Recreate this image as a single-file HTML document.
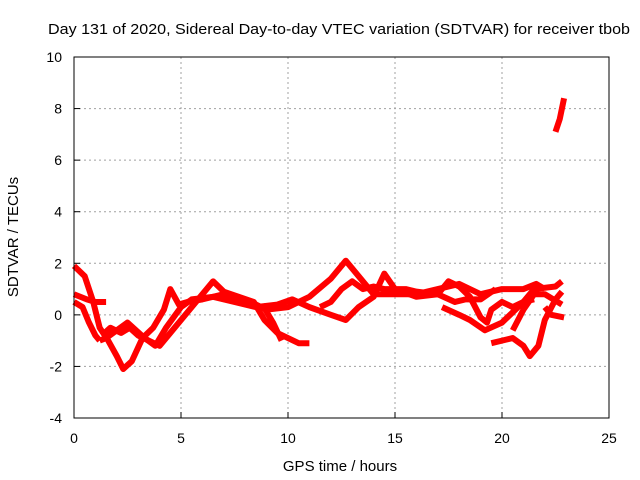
<!DOCTYPE html>
<html><head><meta charset="utf-8"><style>
body{margin:0;background:#fff;}
svg{display:block;font-family:"Liberation Sans",sans-serif;}
</style></head><body>
<svg id="chart" width="640" height="480" xmlns="http://www.w3.org/2000/svg">
<rect width="640" height="480" fill="#fff"/>
<g id="grid"></g>
<g id="series"></g>
<rect x="74" y="57" width="535" height="361" fill="none" stroke="#000" stroke-width="1"/>
<g id="ticks"></g>
<text x="48" y="34" font-size="15" textLength="582" lengthAdjust="spacingAndGlyphs">Day 131 of 2020, Sidereal Day-to-day VTEC variation (SDTVAR) for receiver tbob</text>
<text x="340" y="471" text-anchor="middle" font-size="15">GPS time / hours</text>
<text transform="translate(18,237) rotate(-90)" text-anchor="middle" font-size="15">SDTVAR / TECUs</text>
</svg>
<script>
const xTicks=[0,5,10,15,20,25];
const yTicks=[-4,-2,0,2,4,6,8,10];
const sA=[[0,1.9],[0.5,1.5],[0.9,0.5],[1.2,-0.5],[1.6,-1.0],[2.0,-1.6],[2.3,-2.1],[2.7,-1.8],[3.2,-0.9],[3.7,-0.5],[4.2,0.2],[4.5,1.0],[4.9,0.4],[5.3,0.5],[6,0.6],[7,0.8],[8,0.6],[9,0.2],[10,0.3],[11,0.7],[12,1.4],[12.7,2.1],[13.3,1.5],[14,0.8],[15,0.8],[16,0.8],[17,1.0],[18,1.2],[19,0.8],[20,1.0],[21,1.0],[21.6,1.2],[22,1.0]];
const sB=[[0,0.8],[0.6,0.6],[1.0,0.5],[1.5,0.5]];
const sC=[[0,0.5],[0.4,0.3],[0.7,-0.3],[1.0,-0.8],[1.2,-1.0]];
const sD=[[1.3,-0.8],[1.7,-0.5],[2.2,-0.7],[2.6,-0.5],[3.0,-0.8],[3.5,-1.0],[4.0,-1.2],[4.5,-0.7],[5.2,0.0],[5.7,0.5],[6.5,1.3],[7,0.9],[7.7,0.7],[8.4,0.5],[8.9,-0.2],[9.5,-0.7],[10,-0.9],[10.5,-1.1],[11,-1.1]];
const sE=[[1.2,-1.0],[1.5,-0.9],[2.5,-0.3],[3.3,-0.9],[3.8,-1.2],[4.3,-0.5],[5,0.3],[5.5,0.6],[6.5,0.7],[7.5,0.5],[8.5,0.3],[9.5,0.4],[10.2,0.6],[11,0.3],[12,0.0],[12.7,-0.2],[13.3,0.3],[14,0.7],[14.5,1.6],[15,1.0],[15.5,1.0],[16,0.9],[17,0.8],[17.8,0.5],[18.3,0.6],[19,0.6],[19.7,1.0]];
const sF=[[8.8,0.4],[9.3,-0.3],[9.7,-1.0]];
const sG=[[11.5,0.3],[12,0.5],[12.5,1.0],[13,1.3],[13.5,1.0],[14,1.1],[14.5,1.0],[15,1.0],[16,0.7],[17,0.8],[17.5,1.3],[18,1.1],[18.5,0.7],[19,-0.1],[19.3,-0.3],[19.5,0.2],[20,0.5],[20.5,0.3],[21,0.5],[21.5,1.0],[22.5,1.1],[22.8,1.3]];
const sH=[[17.2,0.3],[18,0.0],[18.5,-0.2],[19.2,-0.6],[20,-0.3],[20.5,0.1],[21,0.5],[21.5,0.6]];
const sI=[[19.5,-1.1],[20,-1.0],[20.5,-0.9],[21,-1.2],[21.3,-1.6],[21.7,-1.2],[22,-0.2],[22.5,0.6],[22.8,0.9]];
const sJ=[[20.5,-0.6],[21,0.2],[21.5,0.8],[22,0.8],[22.8,0.4]];
const sK=[[22,0.3],[22.3,0.0],[22.9,-0.1]];
const sL=[[22.5,7.1],[22.7,7.6],[22.9,8.4]];
const allSeries=[sA,sB,sC,sD,sE,sF,sG,sH,sI,sJ,sK,sL];
const NS="http://www.w3.org/2000/svg";
const X=h=>74+h*(535/25);
const Y=v=>57+(10-v)*(361/14);
const grid=document.getElementById('grid'),ticks=document.getElementById('ticks'),ser=document.getElementById('series');
function mk(t,a){const e=document.createElementNS(NS,t);for(const k in a)e.setAttribute(k,a[k]);return e;}
xTicks.forEach(t=>{
 if(t>0&&t<25){const g=mk('line',{x1:X(t),x2:X(t),y1:57,y2:418,stroke:'#a0a0a0','stroke-dasharray':'2,3'});
 
 grid.appendChild(g);}
 const tk=mk('line',{x1:X(t),x2:X(t),y1:418,y2:412,stroke:'#000'});
 
 ticks.appendChild(tk);
 const tx=mk('text',{x:X(t),y:443,'text-anchor':'middle','font-size':14});tx.textContent=t;
 
 ticks.appendChild(tx);
});
yTicks.forEach(t=>{
 if(t>-4&&t<10){const g=mk('line',{x1:74,x2:609,y1:Y(t),y2:Y(t),stroke:'#a0a0a0','stroke-dasharray':'2,3'});
 
 grid.appendChild(g);}
 const tk=mk('line',{x1:74,x2:80,y1:Y(t),y2:Y(t),stroke:'#000'});
 
 ticks.appendChild(tk);
 const tx=mk('text',{x:62,y:Y(t)+5,'text-anchor':'end','font-size':14});tx.textContent=t;
 
 ticks.appendChild(tx);
});
allSeries.forEach(s=>{
 const p=mk('polyline',{points:s.map(d=>X(d[0])+','+Y(d[1])).join(' '),fill:'none',stroke:'#ff0000','stroke-width':6,'stroke-linejoin':'round'});
 
 
 ser.appendChild(p);
});
</script>
</body></html>
